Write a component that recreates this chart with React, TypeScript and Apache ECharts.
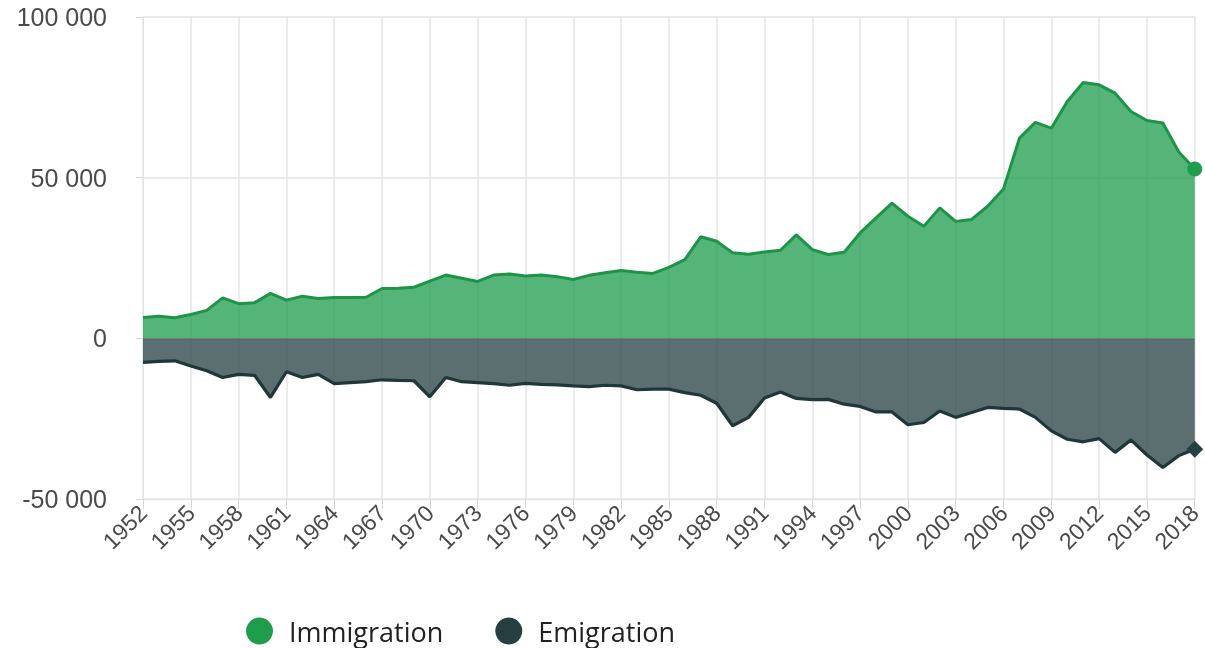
import React, { useEffect, useRef } from "react";
import * as echarts from "echarts";

const years = [
  "1952", "1953", "1954", "1955", "1956", "1957", "1958", "1959", "1960", "1961",
  "1962", "1963", "1964", "1965", "1966", "1967", "1968", "1969", "1970", "1971",
  "1972", "1973", "1974", "1975", "1976", "1977", "1978", "1979", "1980", "1981",
  "1982", "1983", "1984", "1985", "1986", "1987", "1988", "1989", "1990", "1991",
  "1992", "1993", "1994", "1995", "1996", "1997", "1998", "1999", "2000", "2001",
  "2002", "2003", "2004", "2005", "2006", "2007", "2008", "2009", "2010", "2011",
  "2012", "2013", "2014", "2015", "2016", "2017", "2018",
];

const immigration = [
  6500, 6900, 6400, 7400, 8700, 12600, 10800, 11100, 14000, 11900,
  13100, 12400, 12700, 12700, 12800, 15500, 15600, 15900, 17800, 19700,
  18700, 17700, 19700, 20000, 19400, 19700, 19200, 18300, 19600, 20400,
  21100, 20600, 20200, 22100, 24500, 31600, 30200, 26600, 26200, 26900,
  27400, 32200, 27600, 26100, 26800, 32800, 37500, 42100, 38000, 34900,
  40600, 36400, 37000, 41100, 46500, 62300, 67200, 65400, 73700, 79600,
  78900, 76300, 70600, 67800, 67000, 58000, 52700,
];

const emigration = [
  -7500, -7200, -7000, -8600, -10100, -12200, -11200, -11500, -18400, -10400,
  -12200, -11200, -14100, -13800, -13500, -12900, -13100, -13200, -18200, -12200,
  -13500, -13800, -14100, -14600, -14000, -14300, -14500, -14800, -15000, -14600,
  -14800, -16000, -15800, -15800, -16900, -17700, -20200, -27200, -24600, -18600,
  -16700, -18700, -19100, -19000, -20500, -21200, -22900, -22900, -26900, -26200,
  -22600, -24600, -23100, -21500, -21800, -22000, -24600, -28800, -31400, -32200,
  -31200, -35500, -31600, -36300, -40200, -36500, -34500,
];

const yTicks = { min: -50000, max: 100000, interval: 50000 };

const GREEN = "#1f9d4d";
const DARK = "#263f40";
const GRID_COLOR = "#e4e4e8";
const LABEL_COLOR = "#4a4a4a";

const formatThousands = (v: number) => {
  const s = Math.abs(v).toString().replace(/\B(?=(\d{3})+(?!\d))/g, " ");
  return (v < 0 ? "-" : "") + s;
};

export default function App() {
  const ref = useRef<HTMLDivElement>(null);

  useEffect(() => {
    if (!ref.current) return;
    const chart = echarts.init(ref.current, undefined, { renderer: "svg" });
    const last = years.length - 1;

    chart.setOption({
      animation: false,
      grid: { left: 143, right: 9, top: 17, bottom: 149, containLabel: false },
      legend: {
        left: 246,
        top: 617,
        padding: 0,
        itemWidth: 27,
        itemHeight: 27,
        itemGap: 52,
        textStyle: {
          fontFamily: "Open Sans",
          fontSize: 27,
          lineHeight: 28,
          color: "#222",
          padding: [0, 0, 0, 11],
        },
        data: [
          { name: "Immigration", icon: "circle" },
          { name: "Emigration", icon: "circle" },
        ],
      },
      xAxis: {
        type: "category",
        data: years,
        boundaryGap: false,
        axisLine: { onZero: false, lineStyle: { color: GRID_COLOR, width: 1 } },
        axisTick: {
          show: true,
          interval: 2,
          length: 10,
          lineStyle: { color: "#d6d6dc" },
        },
        axisLabel: {
          interval: 2,
          rotate: 45,
          margin: 10,
          fontFamily: "Liberation Sans",
          fontSize: 23,
          color: LABEL_COLOR,
        },
        splitLine: {
          show: true,
          interval: 2,
          lineStyle: { color: GRID_COLOR, width: 1.5 },
        },
      },
      yAxis: {
        type: "value",
        min: yTicks.min,
        max: yTicks.max,
        interval: yTicks.interval,
        axisLine: { show: true, lineStyle: { color: GRID_COLOR } },
        axisTick: { show: true, length: 7, lineStyle: { color: "#d6d6dc" } },
        axisLabel: {
          margin: 36,
          fontFamily: "Liberation Sans",
          fontSize: 25,
          color: LABEL_COLOR,
          formatter: (v: number) => formatThousands(v),
        },
        splitLine: { show: true, lineStyle: { color: GRID_COLOR, width: 1.5 } },
      },
      series: [
        {
          name: "Immigration",
          type: "line",
          data: immigration,
          symbol: "circle",
          showSymbol: true,
          showAllSymbol: true,
          symbolSize: (_v: number, p: any) => (p.dataIndex === last ? 15 : 0),
          itemStyle: { color: GREEN },
          lineStyle: { color: "#1e9448", width: 3 },
          areaStyle: { color: GREEN, opacity: 0.76 },
          z: 3,
        },
        {
          name: "Emigration",
          type: "line",
          data: emigration,
          symbol: "diamond",
          showSymbol: true,
          showAllSymbol: true,
          symbolSize: (_v: number, p: any) => (p.dataIndex === last ? 17 : 0),
          itemStyle: { color: DARK },
          lineStyle: { color: "#1f3738", width: 3.2 },
          areaStyle: { color: DARK, opacity: 0.75 },
          z: 3,
        },
      ],
    });

    return () => chart.dispose();
  }, []);

  return (
    <div
      ref={ref}
      style={{ position: "fixed", left: 0, top: 0, width: 1205, height: 648 }}
    />
  );
}
